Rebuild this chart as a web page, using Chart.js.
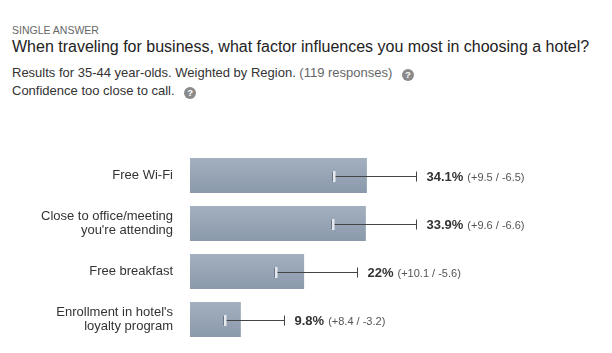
<!DOCTYPE html>
<html>
<head>
<meta charset="utf-8">
<script src="https://cdn.jsdelivr.net/npm/chart.js@4"></script>
<style>
  body { margin: 0; background: #fff; font-family: "Liberation Sans", Arial, sans-serif; width: 612px; height: 353px; overflow: hidden; position: relative; }
  .kicker { position: absolute; left: 12px; top: 24px; font-size: 10.5px; color: #666; white-space: nowrap; }
  .title { position: absolute; left: 12px; top: 38px; font-size: 16px; color: #222; white-space: nowrap; }
  .line { position: absolute; left: 12px; font-size: 13px; color: #333; white-space: nowrap; }
  .gray { color: #666; }
  .q { display: inline-block; width: 12px; height: 12px; border-radius: 50%; background: #8a8a8a; color: #fff; font-size: 9.5px; font-weight: bold; text-align: center; line-height: 12px; vertical-align: -1px; margin-left: 6px; }
  #wrap { position: absolute; left: 0; top: 140px; width: 612px; height: 213px; }
</style>
</head>
<body>
<div class="kicker">SINGLE ANSWER</div>
<div class="title">When traveling for business, what factor influences you most in choosing a hotel?</div>
<div class="line" style="top:65px">Results for 35-44 year-olds. Weighted by Region. <span class="gray">(119 responses)</span> <span class="q">?</span></div>
<div class="line" style="top:83px">Confidence too close to call. <span class="q">?</span></div>
<div id="wrap"><canvas id="chart"></canvas></div>
<script>
const categories = [
    ['Free Wi-Fi'],
    ['Close to office/meeting', "you're attending"],
    ['Free breakfast'],
    ["Enrollment in hotel's", 'loyalty program']
];
const percents = [34.1, 33.9, 22, 9.8];
const errPlus = [9.5, 9.6, 10.1, 8.4];
const errMinus = [6.5, 6.6, 5.6, 3.2];

// error bars + value text drawn after the bars
const errorBars = {
    id: 'errorBars',
    afterDatasetsDraw(chart) {
        const ctx = chart.ctx;
        const x = chart.scales.x;
        const y = chart.scales.y;
        ctx.save();
        percents.forEach((v, i) => {
            const cy = Math.round(y.getPixelForValue(i)) + 0.5;
            const lo = Math.round(x.getPixelForValue(v - errMinus[i])) + 0.5;
            const hi = Math.round(x.getPixelForValue(v + errPlus[i])) + 0.5;
            ctx.strokeStyle = '#444';
            ctx.lineWidth = 1;
            ctx.beginPath();
            ctx.moveTo(lo, cy);
            ctx.lineTo(hi, cy);
            ctx.moveTo(hi, cy - 5);
            ctx.lineTo(hi, cy + 5);
            ctx.stroke();
            // lower cap, light with dark edges
            ctx.fillStyle = '#e6eaee';
            ctx.fillRect(lo - 1, cy - 5.5, 3, 11);
            ctx.strokeStyle = '#6b7785';
            ctx.beginPath();
            ctx.moveTo(lo - 1, cy - 5);
            ctx.lineTo(lo - 1, cy + 5);
            ctx.stroke();

            let tx = hi + 10;
            ctx.textBaseline = 'middle';
            ctx.font = 'bold 13px "Liberation Sans", Arial, sans-serif';
            ctx.fillStyle = '#333';
            const main = v + '%';
            ctx.fillText(main, tx, cy + 1);
            tx += ctx.measureText(main).width + 4;
            ctx.font = '11px "Liberation Sans", Arial, sans-serif';
            ctx.fillStyle = '#555';
            ctx.fillText('(+' + errPlus[i] + ' / -' + errMinus[i] + ')', tx, cy + 1);
        });
        ctx.restore();
    }
};

new Chart(document.getElementById('chart'), {
    type: 'bar',
    data: {
        labels: categories,
        datasets: [{
            data: percents,
            backgroundColor: (c) => {
                const chart = c.chart;
                const y = chart.scales && chart.scales.y;
                if (!y || c.dataIndex === undefined) return '#95a4b5';
                const cy = y.getPixelForValue(c.dataIndex);
                if (!isFinite(cy)) return '#95a4b5';
                const g = chart.ctx.createLinearGradient(0, cy - 17.5, 0, cy + 17.5);
                g.addColorStop(0, '#a3b0bf');
                g.addColorStop(1, '#8a99ab');
                return g;
            },
            borderWidth: 0,
            barPercentage: 0.73,
            categoryPercentage: 1
        }]
    },
    options: {
        indexAxis: 'y',
        responsive: true,
        maintainAspectRatio: false,
        animation: false,
        layout: { padding: { top: 11.5, bottom: 9.5, right: 7, left: 0 } },
        plugins: { legend: { display: false }, tooltip: { enabled: false } },
        scales: {
            x: { display: false, min: 0, max: 80 },
            y: {
                grid: { display: false, drawTicks: false },
                border: { display: false },
                afterFit: (s) => {
                    s.width = 190;
                    s.paddingTop = 0;
                    s.paddingBottom = 0;
                },
                ticks: {
                    padding: 17,
                    color: '#333',
                    font: { family: '"Liberation Sans", Arial, sans-serif', size: 13, lineHeight: 1.1 }
                }
            }
        }
    },
    plugins: [errorBars]
});
</script>
</body>
</html>
